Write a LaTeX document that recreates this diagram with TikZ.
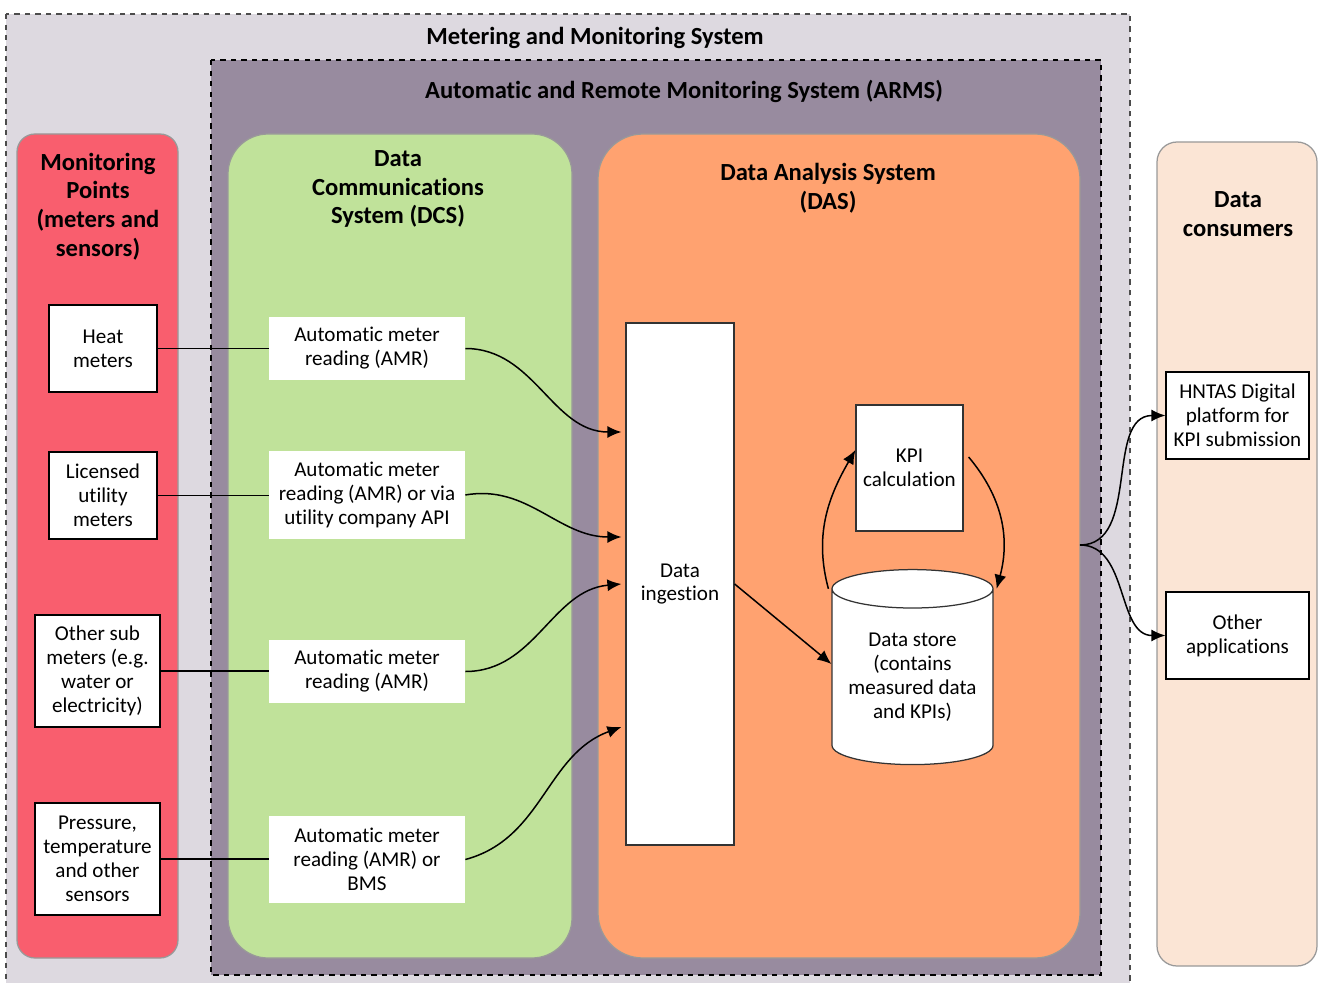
\documentclass[tikz,border=0pt]{standalone}
\usepackage{fontspec}
\setmainfont{Carlito}[Ligatures={NoCommon,NoRare}]
\usetikzlibrary{positioning,shapes.geometric,arrows.meta}

\definecolor{mmsgray}{RGB}{221,217,224}
\definecolor{armspurple}{RGB}{152,139,159}
\definecolor{mpred}{RGB}{249,94,110}
\definecolor{dcsgreen}{RGB}{192,226,154}
\definecolor{dasorange}{RGB}{255,162,112}
\definecolor{dcpeach}{RGB}{251,229,213}

\tikzset{
	panel/.style={draw=black!40, line width=0.25mm},
	title/.style={font=\bfseries\fontsize{14}{16.4}\selectfont, align=center},
	txt/.style={font=\fontsize{12}{13.6}\selectfont, align=center, inner sep=0pt},
	meterbox/.style={txt, draw, fill=white, line width=0.25mm},
	linkbox/.style={txt, fill=white, minimum width=39.2mm},
	dasbox/.style={txt, draw=black!80, fill=white, line width=0.25mm},
	flow/.style={-{Latex[length=2.8mm,width=2.4mm]}, line width=0.3mm},
	wire/.style={line width=0.35mm}
}

\begin{document}
\begin{tikzpicture}[x=0.2mm, y=-0.2mm]
		%%%%% FRAME %%%%%
		\useasboundingbox (0, 0) rectangle (1318, 983);
		
		\draw[fill=mmsgray, draw=black!70, dashed, line width=0.25mm] (6, 14) rectangle (1130, 995);
		\node[title] (mmstitle) at (595, 38) {Metering and Monitoring System};
		
		\draw[fill=armspurple, draw=black, dashed, line width=0.25mm] (211, 60) rectangle (1101, 975);
		\node[title] (armstitle) at (684, 91) {Automatic and Remote Monitoring System (ARMS)};
		
		%%%%% PANELS %%%%%
		\draw[panel, fill=mpred, rounded corners=3.6mm] (17, 134) rectangle (178, 958);
		\draw[panel, fill=dcsgreen, rounded corners=8mm] (228, 134) rectangle (572, 958);
		\draw[panel, fill=dasorange, rounded corners=9mm] (598, 134) rectangle (1080, 958);
		\draw[panel, fill=dcpeach, rounded corners=4mm] (1157, 142) rectangle (1317, 966);
		\coordinate (dasout) at (1080, 545);
		
		\node[title] (mptitle) at (98, 206.5) {Monitoring\\Points\\(meters and\\sensors)};
		\node[title] (dcstitle) at (398, 189) {Data\\Communications\\System (DCS)};
		\node[title] (dastitle) at (828, 188.5) {Data Analysis System\\(DAS)};
		\node[title] (dctitle) at (1238, 214.5) {Data\\consumers};
		
		%%%%% MONITORING POINTS %%%%%
		\node[meterbox, minimum width=21.6mm, minimum height=17.4mm] (heat) at (103, 348.5) {Heat\\meters};
		\node[meterbox, minimum width=21.6mm, minimum height=17.4mm] (licensed) at (103, 495.5) {Licensed\\utility\\meters};
		\node[meterbox, minimum width=25mm, minimum height=22.4mm] (submeters) at (97.5, 671) {Other sub\\meters (e.g.\\water or\\electricity)};
		\node[meterbox, minimum width=25mm, minimum height=22.4mm] (sensors) at (97.5, 859) {Pressure,\\temperature\\and other\\sensors};
		
		%%%%% DCS %%%%%
		\node[linkbox, minimum height=12.6mm] (amrheat) at (367, 348.5) {Automatic meter\\reading (AMR)};
		\node[linkbox, minimum height=17.6mm] (amrapi) at (367, 495) {Automatic meter\\reading (AMR) or via\\utility company API};
		\node[linkbox, minimum height=12.6mm] (amrsub) at (367, 671.5) {Automatic meter\\reading (AMR)};
		\node[linkbox, minimum height=17.4mm] (amrbms) at (367, 859.5) {Automatic meter\\reading (AMR) or\\BMS};
		
		\draw[wire] (heat.east) -- (heat.east -| amrheat.west);
		\draw[wire] (licensed.east) -- (licensed.east -| amrapi.west);
		\draw[wire] (submeters.east) -- (submeters.east -| amrsub.west);
		\draw[wire] (sensors.east) -- (sensors.east -| amrbms.west);
		
		%%%%% DAS %%%%%
		\node[dasbox, minimum width=21.6mm, minimum height=104.4mm] (ingest) at (680, 584) {Data\\ingestion};
		\node[dasbox, minimum width=21.4mm, minimum height=25.2mm] (kpi) at (909.5, 468) {KPI\\calculation};
		\node[txt, cylinder, shape border rotate=90, draw=black!80, fill=white, line width=0.25mm,
			aspect=0.3, minimum width=32.2mm, minimum height=39mm] (store) at (912.5, 677)
			{Data store\\(contains\\measured data\\and KPIs)};
		
		\draw[flow] (amrheat.east) to[out=0, in=180] ([xshift=-0.8mm, yshift=30.4mm]ingest.west);
		\draw[flow] (amrapi.east) to[out=10, in=180] ([xshift=-0.8mm, yshift=9.4mm]ingest.west);
		\draw[flow] (amrsub.east) to[out=0, in=185] ([xshift=-0.8mm]ingest.west);
		\draw[flow] (amrbms.east) to[out=15, in=200] ([xshift=-0.8mm, yshift=-28.6mm]ingest.west);
		
		\draw[flow] (ingest.east) -- ([yshift=2.6mm]store.west);
		\draw[flow] ([xshift=-0.6mm]store.before top) to[out=105, in=240] ([yshift=3.6mm]kpi.west);
		\draw[flow] ([xshift=1mm, yshift=2.2mm]kpi.east) to[out=-50, in=75] ([xshift=0.6mm]store.after top);
		
		%%%%% CONSUMERS %%%%%
		\node[meterbox, minimum width=28.6mm, minimum height=17.4mm] (hntas) at (1237.5, 415.5) {HNTAS Digital\\platform for\\KPI submission};
		\node[meterbox, minimum width=28.6mm, minimum height=17.4mm] (otherapps) at (1237.5, 635.5) {Other\\applications};
		
		\draw[flow] (dasout) to[out=0, in=180] (hntas.west);
		\draw[flow] (dasout) to[out=0, in=180] (otherapps.west);
		
		%%%%% END %%%%%
\end{tikzpicture}
\end{document}
